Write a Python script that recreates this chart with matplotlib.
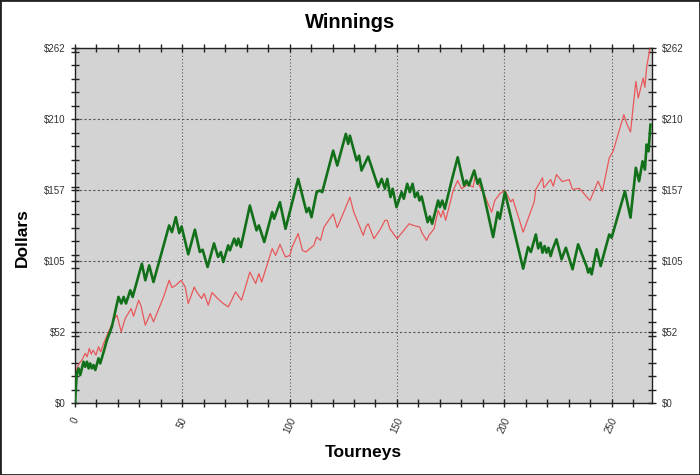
import matplotlib
matplotlib.use("Agg")
from matplotlib import pyplot as plt
from matplotlib.ticker import MultipleLocator, FixedLocator
from matplotlib.patches import Rectangle

plt.rcParams['font.family'] = ['Liberation Sans', 'DejaVu Sans']

# tourney index / dollars at the turning points
green_x = [0, 0.9, 1.7, 2.5, 4.0, 4.8, 5.6, 6.4, 7.1, 7.9, 8.7, 9.5, 11, 11.8, 13.4, 14.9,
           17.2, 20.3, 21.6, 22.7, 23.8, 25.8, 26.9, 31.2, 32.8, 34.6, 36.6, 43.9, 45.2, 47,
           48.6, 49.7, 52.8, 55.9, 58.2, 59.5, 61.8, 64.8, 66.7, 68, 69.1, 71.4, 72.2, 74.2,
           75.3, 76.1, 77.3, 81.5, 84.6, 85.7, 88.2, 91.9, 92.8, 95.5, 98.1, 104, 107.9, 109,
           110.2, 112.6, 114.1, 115.2, 120.3, 122.2, 126.2, 127.3, 128.1, 131.2, 132.4, 133.5,
           136.6, 141.3, 142.9, 144.4, 145.5, 147, 148, 149.8, 152.2, 153.2, 154.8, 156, 157.3,
           158.4, 159.6, 160.5, 161.5, 164.3, 165.3, 166.4, 169.2, 170, 171.1, 172.3, 175.5,
           178.3, 181.3, 182.4, 183.5, 186, 187.6, 188.6, 190.2, 194.8, 196.9, 197.9, 200.3,
           208.8, 211.1, 212.4, 214.7, 215.8, 216.9, 217.8, 218.8, 219.7, 220.6, 221.6, 222.5,
           224.3, 226.7, 228.7, 231.8, 234.4, 238.3, 239.1, 239.9, 240.7, 243, 244.9, 248.9,
           250, 256.2, 258.8, 261.3, 262.8, 264.4, 265.5, 266.3, 267.2, 268.1]
green_y = [0, 22.1, 25.8, 20.9, 30.7, 27, 30.7, 25.8, 29.5, 25.8, 28.3, 24.6, 33.2, 29.5, 38.1, 46.7,
           56.5, 78.7, 73.8, 78.7, 73.8, 83.6, 78.7, 103.3, 91, 102, 89.7, 131.6, 126.6, 137.7,
           125.9, 130.8, 110.2, 128.4, 111.9, 113.6, 100.8, 118.3, 108.2, 111.9, 104.5, 116.8, 113.1, 121.8,
           116.8, 121.8, 115.6, 146.3, 127.9, 131.6, 119.3, 141.4, 136.5, 148.8, 129.1, 166, 141.4, 144.6,
           137.7, 156.2, 157.4, 156.2, 186.9, 175.9, 199.3, 191.9, 198, 179.6, 183.2, 172.2,
           182.5, 159.9, 166, 158.7, 166, 152.5, 158.7, 145.1, 156.2, 151.3, 162.4, 156.2, 162.4,
           152.5, 156, 150, 153, 134, 138.2, 132.8, 150, 145.1, 150, 143.9, 164.8,
           182, 161.1, 164.8, 161.1, 172.2, 162.4, 166, 156.2, 123, 141.4, 136.5, 156.2,
           99.6, 115.6, 111.9, 124.9, 114.6, 118.8, 111.4, 116.3, 111.4, 115.1, 108.9, 113.9,
           121.3, 106.5, 115.1, 99.1, 117.6, 101.5, 96.7, 99.8, 95.4, 113.9, 101.5, 124.9,
           122.5, 156.9, 137.3, 174.2, 164.3, 179, 172.9, 191.4, 186.4, 206.1]

red_x = [0, 0.9, 2, 3.3, 4.8, 5.7, 6.7, 7.6, 8.5, 9.8, 11, 12, 13.4, 16, 18.5, 19.6, 21.6, 23.4,
         26.2, 27.3, 29.7, 30.7, 32.8, 35.1, 36.6, 41.3, 43.9, 45.2, 47, 49.5, 51.4, 52.8, 55.6,
         56.7, 59, 60.2, 62.1, 63.9, 66.5, 69.1, 71.4, 73, 74.8, 77.6, 81.5, 84.2, 85.7, 87,
         91.9, 93.5, 95.5, 97, 98.1, 100.1, 101.2, 104, 106, 107.6, 111.3, 112.6, 114.4, 116,
         120.3, 122.2, 128.1, 129.9, 131.2, 134.3, 135.5, 136.6, 139.3, 142.4, 144.4, 145.5,
         146.7, 150.1, 153.2, 155.7, 157.6, 160.7, 161.5, 163.8, 164.9, 167.3, 169.2, 170.5,
         171.5, 172.7, 176.2, 178.3, 180.1, 183, 185.5, 186.3, 190.9, 194.1, 195.6, 197.9,
         200.3, 203, 204, 208.8, 213.9, 214.7, 217.8, 218.4, 221.6, 222.8, 224.3, 227, 230.2,
         231.8, 235, 239.9, 243.7, 245.7, 248.9, 250.7, 255.7, 256.9, 258.8, 261.3, 262.4,
         264.7, 265.5, 266.3, 267.8]
red_y = [0, 25.8, 29.5, 32, 36.9, 34.4, 40.6, 36.4, 39.3, 35.6, 41.8, 38.1, 44.3, 54.1, 62.7, 65.2, 52.8, 62.7,
         70.1, 64.4, 76.2, 72.5, 57.8, 66.4, 60.2, 78.7, 91, 85.6, 87.3, 91, 86, 73.8, 86,
         82.4, 77.5, 81.2, 72.5, 81.9, 77.5, 73.8, 71.3, 76.2, 82.4, 76.2, 97.1, 88.6, 95.9, 89.7,
         114.4, 109.4, 117.6, 111.9, 108.2, 109.4, 115.6, 125.5, 113.1, 111.9, 116.8, 123, 120.5, 130.3,
         140.2, 129.9, 152.5, 141.4, 136.5, 124.2, 130.3, 132.8, 121.8, 129.1, 135.3, 135.3,
         129.1, 121.8, 127.9, 132.8, 131.6, 130.3, 126.6, 120.5, 124.2, 129.1, 142.7, 137.7,
         142.7, 135.3, 157.4, 164.8, 158.7, 162, 159.9, 167.3, 153.7, 141.4, 150, 155,
         157.4, 149, 151, 126.6, 148.8, 158.2, 166.8, 159.4, 165.5, 160.6, 169.2, 164, 165.5,
         158.2, 159, 150, 164.3, 156.9, 181.5, 186.4, 213.5, 207.4, 200.7, 238.1, 225.8,
         240.6, 233.7, 248.4, 262]

y_ticks = [0, 52.5, 105, 157.5, 210, 262.5]
y_labels = ["$0", "$52", "$105", "$157", "$210", "$262"]
x_ticks = [0, 50, 100, 150, 200, 250]

fig = plt.figure(figsize=(7, 4.75), dpi=100)
ax = fig.add_axes([0.107, 0.151, 0.825, 0.747])
ax.set_facecolor('#d3d3d3')

ax.plot(red_x, red_y, color='#e8585a', lw=0.9, zorder=3)
ax.plot(green_x, green_y, color='#12701a', lw=1.9, zorder=4)

ax.set_xlim(0, 269)
ax.set_ylim(0, 262.5)

ax.yaxis.set_major_locator(FixedLocator(y_ticks))
ax.set_yticklabels(y_labels)
ax.yaxis.set_minor_locator(MultipleLocator(10))
ax.xaxis.set_major_locator(FixedLocator(x_ticks))
ax.xaxis.set_minor_locator(MultipleLocator(10))
ax.set_xticklabels([str(v) for v in x_ticks], rotation=65, ha='center', va='top')

ax.tick_params(which='both', direction='inout', length=6, width=1, color='#222222',
               labelsize=7, labelcolor='#333333', top=True, right=True, labelright=True)
ax.tick_params(axis='x', which='both', top=True, labeltop=False, pad=6)

ax.grid(axis='x', which='major', color='#555555', linestyle=(0, (1, 2)), lw=0.8)
ax.grid(axis='y', which='major', color='#555555', linestyle=(0, (2, 2)), lw=0.8)
for s in ax.spines.values():
    s.set_color('#222222')
    s.set_linewidth(1)

fig.text(0.5, 0.953, "Winnings", ha='center', va='center', fontsize=14.5, fontweight='bold')
fig.text(0.519, 0.048, "Tourneys", ha='center', va='center', fontsize=12.5, fontweight='bold')
fig.text(0.032, 0.5, "Dollars", ha='center', va='center', rotation=90, fontsize=12.5,
         fontweight='bold')

fig.patches.append(Rectangle((0, 0), 1, 1, transform=fig.transFigure, fill=False,
                             edgecolor='#222222', lw=2))

fig.savefig("out.png", dpi=100)
